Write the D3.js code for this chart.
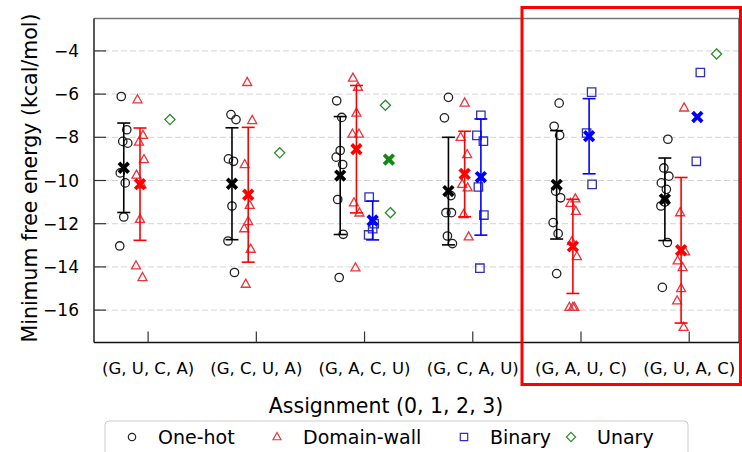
<!DOCTYPE html>
<html lang="en">
<head>
<meta charset="UTF-8">
<title>Minimum free energy by assignment</title>
<script src="https://d3js.org/d3.v7.min.js"></script>
<style>
    body { margin: 0; background: #fff; }
    svg text { font-family: "DejaVu Sans", sans-serif; fill: #000; }
</style>
</head>
<body>
<svg id="chart" width="742" height="452"></svg>
<script>
    // categories
    const groups = ["(G, U, C, A)", "(G, C, U, A)", "(G, A, C, U)", "(G, C, A, U)", "(G, A, U, C)", "(G, U, A, C)"];
    const encodings = ["One-hot", "Domain-wall", "Binary", "Unary"];
    const yTicks = [-4, -6, -8, -10, -12, -14, -16];

    // individual runs, one list per assignment
    const oneHot = [
        [-6.11, -7.65, -8.19, -8.27, -9.65, -10.11, -11.69, -13.03],
        [-6.95, -7.18, -9.0, -9.11, -11.18, -12.8, -14.26],
        [-6.31, -7.08, -8.61, -8.92, -9.26, -10.88, -12.49, -14.49],
        [-6.15, -7.1, -10.7, -11.49, -11.49, -12.57, -12.92],
        [-6.42, -7.49, -7.91, -10.49, -10.8, -11.95, -12.46, -14.31],
        [-8.09, -9.42, -9.8, -10.11, -10.41, -11.0, -11.18, -12.87, -14.95]
    ];
    const domainWall = [
        [-6.26, -7.91, -8.22, -9.03, -9.75, -10.2, -11.8, -13.95, -14.49],
        [-5.46, -7.22, -9.26, -11.15, -11.9, -12.23, -13.18, -14.8],
        [-5.26, -5.68, -6.88, -7.85, -7.85, -11.03, -11.5, -14.04],
        [-6.41, -8.0, -8.8, -10.18, -10.34, -11.57, -12.61],
        [-10.85, -11.06, -11.43, -12.83, -13.52, -15.87, -15.87, -15.87],
        [-6.64, -11.49, -13.3, -13.72, -14.03, -15.0, -15.57, -16.8]
    ];
    const binary = [
        [],
        [],
        [-10.77, -12.0, -12.23, -12.52],
        [-6.98, -7.91, -8.18, -10.3, -11.6, -14.06],
        [-5.91, -7.8, -10.18],
        [-5.0, -9.11]
    ];
    const unary = [
        [-7.18],
        [-8.72],
        [-6.52, -11.49],
        [],
        [],
        [-4.14]
    ];

    // mean and standard deviation markers (null = not drawn)
    const oneHotMean = [-9.41, -10.15, -9.77, -10.49, -10.2, -10.87];
    const oneHotSd = [2.07, 2.59, 2.73, 2.49, 2.51, 1.91];
    const domainWallMean = [-10.17, -10.66, -8.55, -9.7, -13.05, -13.23];
    const domainWallSd = [2.6, 3.12, 2.95, 1.98, 2.18, 3.37];
    const binaryMean = [null, null, -11.85, -9.84, -7.95, -7.06];
    const binarySd = [null, null, 0.9, 2.69, 1.74, null];
    const unaryMean = [null, null, -9.03, null, null, null];
    const unarySd = [null, null, null, null, null, null];

    const series = [
        {name: encodings[0], pts: oneHot, mean: oneHotMean, sd: oneHotSd, color: "#000000", stroke: "#222222", shape: "circle", off: -0.225},
        {name: encodings[1], pts: domainWall, mean: domainWallMean, sd: domainWallSd, color: "#ff0000", stroke: "#e8363c", shape: "triangle", off: -0.075},
        {name: encodings[2], pts: binary, mean: binaryMean, sd: binarySd, color: "#0000ff", stroke: "#2f2fb8", shape: "square", off: 0.075},
        {name: encodings[3], pts: unary, mean: unaryMean, sd: unarySd, color: "#118811", stroke: "#2e8b2e", shape: "diamond", off: 0.225}
    ];

    const svg = d3.select("#chart");
    const plot = {left: 94, right: 739, top: 18.5, bottom: 342.5};

    const x = d3.scaleLinear().domain([-0.5, 5.46]).range([plot.left, plot.right]);
    const y = d3.scaleLinear().domain([-17.5, -2.5]).range([plot.bottom, plot.top]);

    // grid
    svg.append("g").selectAll("line").data(yTicks).join("line")
        .attr("x1", plot.left).attr("x2", plot.right)
        .attr("y1", d => y(d)).attr("y2", d => y(d))
        .attr("stroke", "#d4d4d4").attr("stroke-width", 1)
        .attr("stroke-dasharray", "6,3");

    function markerPath(shape, s) {
        if (shape === "triangle") {
            const h = s * 0.9;
            return `M0,${-h * 0.62}L${s / 2},${h * 0.38}L${-s / 2},${h * 0.38}Z`;
        }
        if (shape === "square") {
            const h = s / 2 - 0.3;
            return `M${-h},${-h}L${h},${-h}L${h},${h}L${-h},${h}Z`;
        }
        if (shape === "diamond") {
            const h = s / 2 + 0.6;
            return `M0,${-h}L${h},0L0,${h}L${-h},0Z`;
        }
        return d3.arc()({innerRadius: 0, outerRadius: s / 2 - 0.3, startAngle: 0, endAngle: 2 * Math.PI});
    }

    function crossPath(cx, cy) {
        // filled 'X' marker
        const L = 6.8, w = 1.9;
        const pts = [[-w, -L], [w, -L], [w, -w], [L, -w], [L, w], [w, w], [w, L], [-w, L], [-w, w], [-L, w], [-L, -w], [-w, -w]];
        const c = Math.SQRT1_2;
        return "M" + pts.map(([a, b]) => [cx + (a - b) * c, cy + (a + b) * c].join(",")).join("L") + "Z";
    }

    const jitter = [-2.5, 3, -1, 4, -3.5, 1.5, 0, -4, 2.5];

    // scattered runs
    series.forEach(s => {
        const g = svg.append("g");
        s.pts.forEach((vals, gi) => {
            g.selectAll(null).data(vals).join("path")
                .attr("d", markerPath(s.shape, 9))
                .attr("transform", (d, i) => `translate(${x(gi + s.off) + jitter[(i + gi * 2) % jitter.length]},${y(d)})`)
                .attr("fill", "none")
                .attr("stroke", s.stroke)
                .attr("stroke-width", 1.3);
        });
    });

    // error bars and mean markers
    series.forEach(s => {
        const g = svg.append("g");
        groups.forEach((name, gi) => {
            const m = s.mean[gi];
            if (m == null) return;
            const cx = x(gi + s.off);
            const sd = s.sd[gi];
            if (sd != null) {
                g.append("line").attr("x1", cx).attr("x2", cx)
                    .attr("y1", y(m + sd)).attr("y2", y(m - sd))
                    .attr("stroke", s.color).attr("stroke-width", 1.6);
                [m + sd, m - sd].forEach(v => {
                    g.append("line").attr("x1", cx - 6.5).attr("x2", cx + 6.5)
                        .attr("y1", y(v)).attr("y2", y(v))
                        .attr("stroke", s.color).attr("stroke-width", 1.6);
                });
            }
            g.append("path").attr("d", crossPath(cx, y(m))).attr("fill", s.color);
        });
    });

    // frame
    const frame = svg.append("g");
    frame.append("line").attr("x1", plot.left).attr("x2", plot.right).attr("y1", plot.top).attr("y2", plot.top).attr("stroke", "#777").attr("stroke-width", 1.5);
    frame.append("line").attr("x1", plot.right).attr("x2", plot.right).attr("y1", plot.top).attr("y2", plot.bottom).attr("stroke", "#555").attr("stroke-width", 1.5);
    frame.append("line").attr("x1", plot.left).attr("x2", plot.left).attr("y1", plot.top).attr("y2", plot.bottom).attr("stroke", "#222").attr("stroke-width", 1.5);
    frame.append("line").attr("x1", plot.left).attr("x2", plot.right).attr("y1", plot.bottom).attr("y2", plot.bottom).attr("stroke", "#111").attr("stroke-width", 1.5);

    // y axis ticks and labels
    const yAxis = svg.append("g");
    yAxis.selectAll("line").data(yTicks).join("line")
        .attr("x1", plot.left).attr("x2", plot.left + 12)
        .attr("y1", d => y(d)).attr("y2", d => y(d))
        .attr("stroke", "#333").attr("stroke-width", 1.2);
    yAxis.selectAll("text").data(yTicks).join("text")
        .attr("x", 79).attr("y", d => y(d))
        .attr("text-anchor", "end").attr("dominant-baseline", "central")
        .attr("font-size", 17)
        .text(d => "\u2212" + Math.abs(d));

    // x axis ticks and labels
    const xAxis = svg.append("g");
    xAxis.selectAll("line").data(groups).join("line")
        .attr("x1", (d, i) => x(i)).attr("x2", (d, i) => x(i))
        .attr("y1", plot.bottom).attr("y2", plot.bottom - 11)
        .attr("stroke", "#333").attr("stroke-width", 1.2);
    xAxis.selectAll("text").data(groups).join("text")
        .attr("x", (d, i) => x(i)).attr("y", 368)
        .attr("text-anchor", "middle").attr("dominant-baseline", "central")
        .attr("font-size", 16.5)
        .text(d => d);

    svg.append("text")
        .attr("x", 386).attr("y", 406)
        .attr("text-anchor", "middle").attr("dominant-baseline", "central")
        .attr("font-size", 20.5)
        .text("Assignment (0, 1, 2, 3)");

    svg.append("text")
        .attr("transform", "translate(30,178) rotate(-90)")
        .attr("text-anchor", "middle").attr("dominant-baseline", "central")
        .attr("font-size", 20.5)
        .text("Minimum free energy (kcal/mol)");

    // legend
    const legend = svg.append("g");
    legend.append("rect")
        .attr("x", 105).attr("y", 421).attr("width", 583).attr("height", 40)
        .attr("rx", 4).attr("fill", "#fff").attr("stroke", "#cccccc").attr("stroke-width", 1);
    const legendX = [132, 277, 464, 571];
    series.forEach((s, i) => {
        legend.append("path")
            .attr("d", markerPath(s.shape, 8))
            .attr("transform", `translate(${legendX[i]},437)`)
            .attr("fill", "none").attr("stroke", s.stroke).attr("stroke-width", 1.2);
        legend.append("text")
            .attr("x", legendX[i] + 26).attr("y", 437)
            .attr("dominant-baseline", "central")
            .attr("font-size", 19)
            .text(s.name);
    });

    // highlight box
    svg.append("rect")
        .attr("x", 522).attr("y", 7.5).attr("width", 218.5).attr("height", 377)
        .attr("fill", "none").attr("stroke", "#ff0000").attr("stroke-width", 3);
</script>
</body>
</html>
